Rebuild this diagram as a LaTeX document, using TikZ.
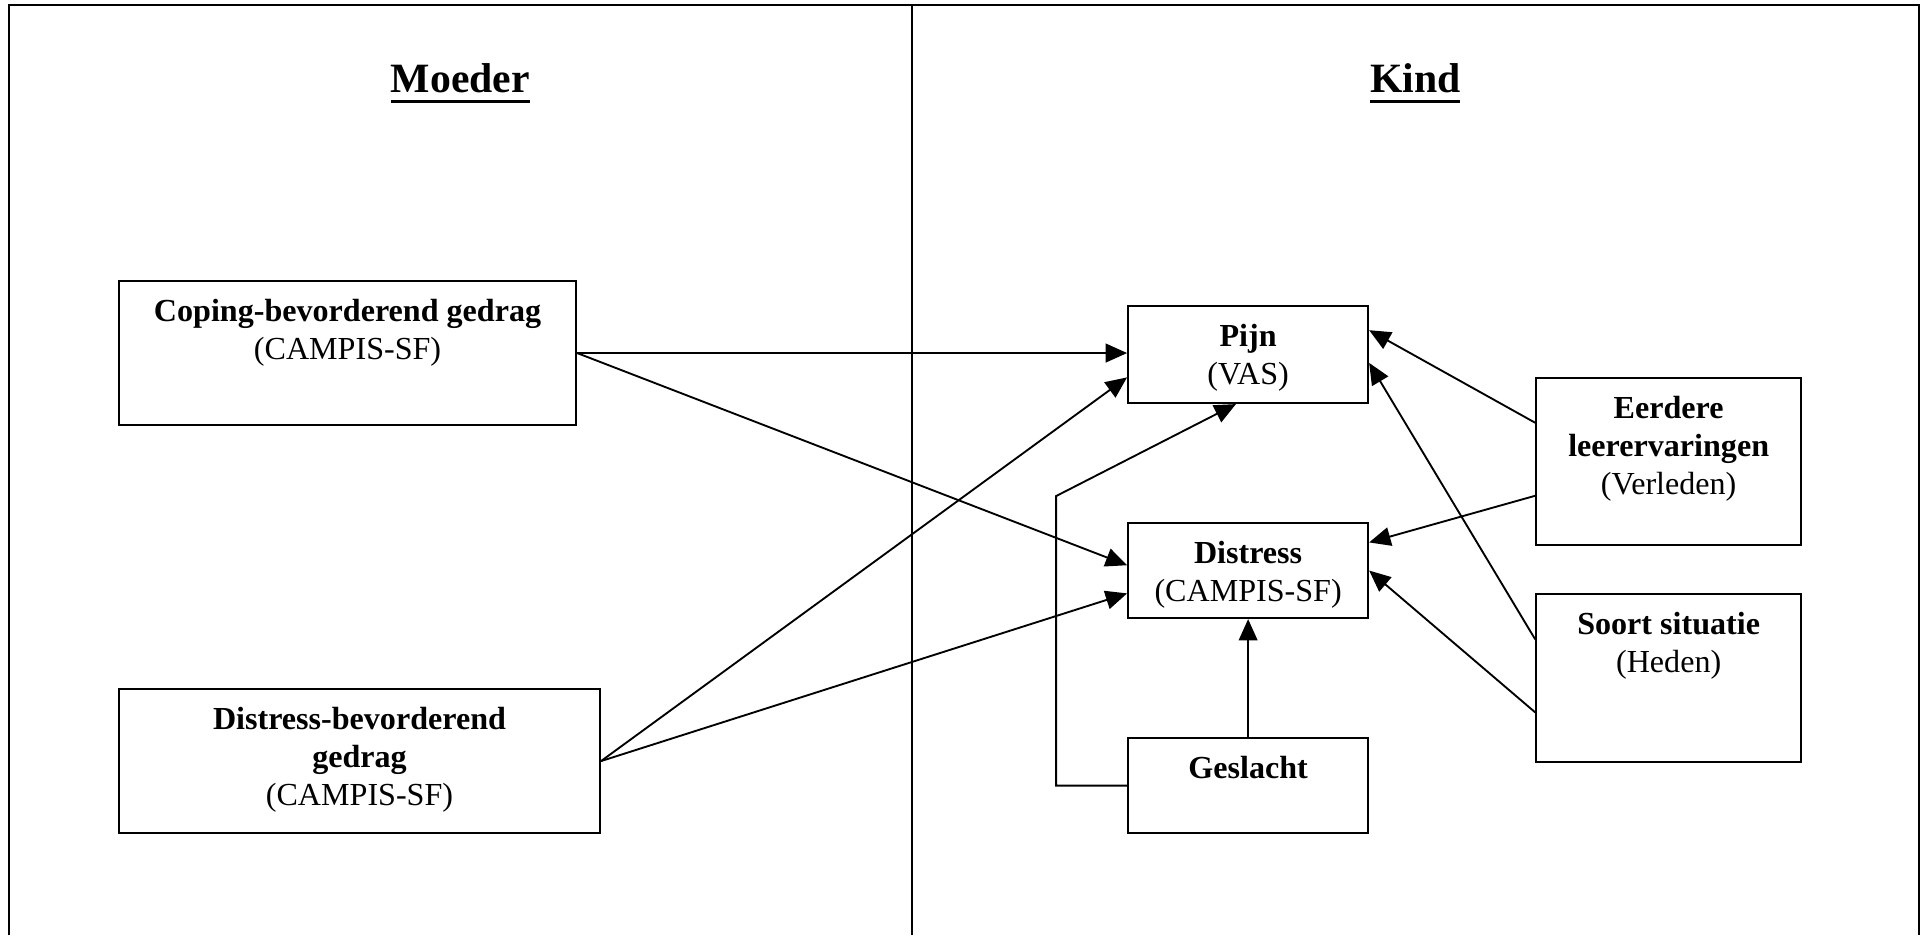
\documentclass[tikz,border=0pt]{standalone}
\usepackage{fontspec}
\setmainfont{Liberation Serif}
\usetikzlibrary{arrows.meta}

\newcommand{\titel}[1]{\setbox0\hbox{#1}\rlap{\rule[-4.2pt]{\wd0}{1.3pt}}\box0}
\newcommand{\vaktekst}[3]{\parbox[c][#2][t]{#1}{\centering\rule{0pt}{15.1pt}#3}}

\begin{document}
\begin{tikzpicture}[
    blok/.style={draw, line width=.75pt, inner sep=0pt,
                 font=\fontsize{12pt}{14.2pt}\selectfont},
    pijl/.style={line width=.7pt, -{Triangle[length=8pt,width=7pt]}},
    kop/.style={anchor=base, font=\fontsize{15.6pt}{18pt}\selectfont\bfseries}]

\useasboundingbox (0,0) rectangle (25.30,12.29);

% kader
\draw[line width=.9pt] (0.118,0) |- (25.223,12.224) -- (25.223,0);
\draw[line width=.9pt] (11.987,0) -- (11.987,12.224);

\node[kop] (moeder) at (6.05,11.08) {\titel{Moeder}};
\node[kop] (kind) at (18.60,11.08) {\titel{Kind}};

% moeder
\node[blok] (coping) at (4.568,7.650)
    {\vaktekst{6.007cm}{1.893cm}{\textbf{Coping-bevorderend gedrag}\\(CAMPIS-SF)}};
\node[blok] (distbev) at (4.725,2.287)
    {\vaktekst{6.322cm}{1.893cm}{\textbf{Distress-bevorderend}\\\textbf{gedrag}\\(CAMPIS-SF)}};

% kind
\node[blok] (pijn) at (16.404,7.630)
    {\vaktekst{3.155cm}{1.275cm}{\textbf{Pijn}\\(VAS)}};
\node[blok] (distress) at (16.404,4.791)
    {\vaktekst{3.155cm}{1.249cm}{\textbf{Distress}\\(CAMPIS-SF)}};
\node[blok] (geslacht) at (16.404,1.965)
    {\vaktekst{3.155cm}{1.249cm}{\textbf{Geslacht}}};
\node[blok] (eerdere) at (21.931,6.224)
    {\vaktekst{3.483cm}{2.195cm}{\textbf{Eerdere}\\\textbf{leerervaringen}\\(Verleden)}};
\node[blok] (soort) at (21.931,3.378)
    {\vaktekst{3.483cm}{2.208cm}{\textbf{Soort situatie}\\(Heden)}};

% pijlen
\draw[pijl] (coping.east) -- (coping.east -| pijn.west);
\draw[pijl] (coping.east) -- ([yshift=.7mm]distress.west);
\draw[pijl] (distbev.east) -- ([yshift=-3mm]pijn.west);
\draw[pijl] (distbev.east) -- ([yshift=-3mm]distress.west);
\coordinate (knik) at (13.88,5.77);
\draw[pijl] (geslacht.west) -| (knik) -- ([xshift=-1.6mm]pijn.south);
\draw[pijl] (geslacht.north) -- (distress.south);
\draw[pijl] ([yshift=5.1mm]eerdere.west) -- ([yshift=3.2mm]pijn.east);
\draw[pijl] ([yshift=-4.5mm]eerdere.west) -- ([yshift=3.7mm]distress.east);
\draw[pijl] ([yshift=5.1mm]soort.west) -- ([yshift=-1.1mm]pijn.east);
\draw[pijl] ([yshift=-4.5mm]soort.west) -- (distress.east);

\end{tikzpicture}
\end{document}
